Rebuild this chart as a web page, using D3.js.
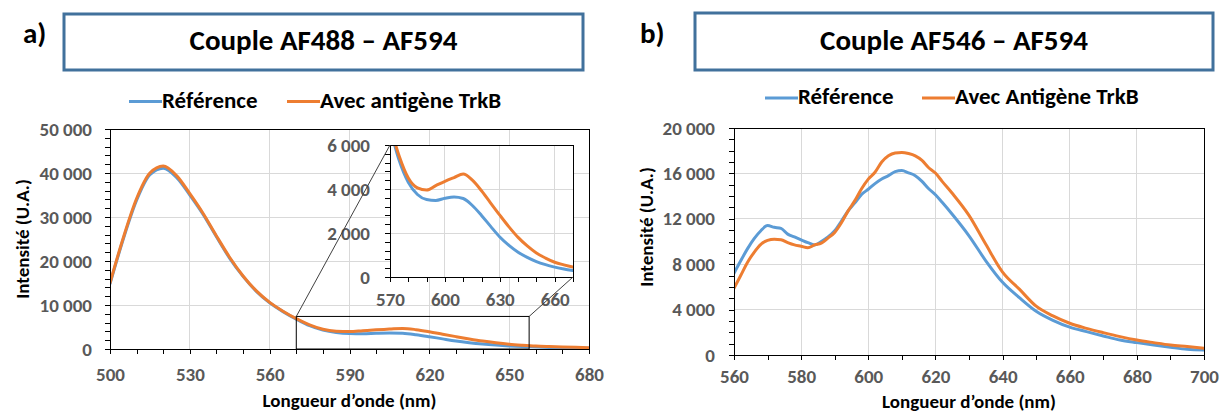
<!DOCTYPE html>
<html><head><meta charset="utf-8">
<script src="https://cdn.jsdelivr.net/npm/d3@7"></script>
<style>
body{margin:0;background:#fff}
svg{display:block}
text{font-family:Carlito,Lato,sans-serif}
</style>
</head><body>
<svg id="chart" width="1220" height="412"></svg>
<script>
// ---------------- DATA ----------------
// Panel a) Couple AF488 – AF594
const aWavelength = [500,505,510,515,520,525,530,535,540,545,550,555,560,565,570,575,580,585,590,595,600,605,610,615,620,625,630,635,640,645,650,655,660,665,670,675,680];
const aReference  = [14800,25000,33800,39600,41100,39000,35000,30600,25500,20600,16500,13100,10500,8500,6800,5300,4300,3750,3520,3480,3580,3640,3570,3250,2800,2300,1820,1440,1130,890,700,560,450,360,290,230,190];
const aAntigen    = [15000,25300,34200,40000,41600,39400,35300,30800,25700,20800,16600,13200,10600,8600,6900,5500,4500,4050,3950,4150,4350,4520,4680,4400,3920,3360,2810,2280,1800,1410,1090,860,670,550,450,370,300];
const aXTicks = [500,530,560,590,620,650,680];
const aYTicks = [0,10000,20000,30000,40000,50000];
const aZoomX = [570, 657.5];
const aZoomY = [0, 7400];
const insetXDomain = [570, 670];
const insetYDomain = [0, 6000];
const insetXTicks = [570,600,630,660];
const insetYTicks = [0,2000,4000,6000];

// Panel b) Couple AF546 – AF594
const bWavelength = [560,562,564,566,568,570,572,574,576,578,580,582,584,586,588,590,592,594,596,598,600,602,604,606,608,610,612,614,616,618,620,622,625,630,635,640,645,650,655,660,665,670,675,680,685,690,695,700];
const bReference  = [7200,8300,9350,10250,10950,11400,11250,11150,10650,10400,10150,9900,9700,10000,10400,10950,11800,12700,13400,14150,14600,15100,15500,15800,16150,16250,16050,15800,15300,14650,14120,13450,12400,10500,8300,6400,5050,3850,3050,2450,2060,1680,1320,1090,880,680,500,440];
const bAntigen    = [5880,7000,8150,9050,9750,10100,10200,10150,9900,9700,9580,9450,9700,9850,10300,10800,11650,12700,13600,14650,15500,16100,17000,17550,17800,17850,17750,17550,17150,16500,16030,15300,14250,12300,9750,7300,5800,4300,3450,2800,2350,1970,1620,1320,1090,880,740,590];
const bXTicks = [560,580,600,620,640,660,680,700];
const bYTicks = [0,4000,8000,12000,16000,20000];

const seriesA = ["Référence","Avec antigène TrkB"];
const seriesB = ["Référence","Avec Antigène TrkB"];
const titles = ["Couple AF488 – AF594","Couple AF546 – AF594"];
const panelLabels = ["a)","b)"];
const xTitle = "Longueur d’onde (nm)";
const yTitle = "Intensité (U.A.)";

// ---------------- STYLE ----------------
const BLUE = "#5B9BD5", ORANGE = "#ED7D31", GRID = "#D9D9D9", LABEL = "#595959", FRAME = "#41719C";
const FONT = "Carlito, Lato, sans-serif";
const TICK_FS = 19, TITLE_FS = 19, LEGEND_FS = 23, HEAD_FS = 29;
const fmt = d3.formatLocale({decimal:",", thousands:"\u00a0", grouping:[3], currency:["",""]}).format(",d");

const svg = d3.select("#chart");
svg.append("rect").attr("width",1220).attr("height",412).attr("fill","#fff");
const defs = svg.append("defs");

function header(boxX, boxY, boxW, boxH, labelX, label, title){
  svg.append("text").attr("x",labelX).attr("y",43).text(label)
    .attr("font-size",HEAD_FS).attr("font-weight","bold").attr("fill","#000");
  svg.append("rect").attr("x",boxX).attr("y",boxY).attr("width",boxW).attr("height",boxH)
    .attr("fill","none").attr("stroke",FRAME).attr("stroke-width",3);
  svg.append("text").attr("x",boxX+boxW/2).attr("y",50).attr("text-anchor","middle").text(title)
    .attr("font-size",HEAD_FS).attr("font-weight","bold").attr("fill","#000");
}
function legend(y, items){
  items.forEach(it=>{
    svg.append("line").attr("x1",it.x).attr("x2",it.x+33).attr("y1",y).attr("y2",y)
      .attr("stroke",it.color).attr("stroke-width",3);
    svg.append("text").attr("x",it.x+33).attr("y",y+6).text(it.name)
      .attr("font-size",LEGEND_FS).attr("font-weight","bold").attr("fill","#000");
  });
}
function grid(g, x, y, xt, yt){
  const [y0,y1] = y.range(), [x0,x1] = x.range();
  g.append("g").selectAll("line").data(xt).join("line")
    .attr("x1",d=>x(d)).attr("x2",d=>x(d)).attr("y1",y0).attr("y2",y1)
    .attr("stroke",GRID).attr("stroke-width",1).attr("shape-rendering","crispEdges");
  g.append("g").selectAll("line").data(yt).join("line")
    .attr("y1",d=>y(d)).attr("y2",d=>y(d)).attr("x1",x0).attr("x2",x1)
    .attr("stroke",GRID).attr("stroke-width",1).attr("shape-rendering","crispEdges");
}
function styleAxis(sel){
  sel.attr("font-family",FONT).attr("font-size",TICK_FS).attr("font-weight","bold");
  sel.select(".domain").remove();
  sel.selectAll("line").attr("stroke","#000").attr("shape-rendering","crispEdges");
  sel.selectAll("text").attr("fill",LABEL);
}
function axes(g, x, y, xt, yt, xMinor, yMinor, xPad, yPad){
  const yb = y.range()[0], xl = x.range()[0];
  g.append("g").attr("transform",`translate(0,${yb})`)
    .call(d3.axisBottom(x).tickValues(xMinor).tickSize(5).tickFormat(""))
    .call(styleAxis);
  g.append("g").attr("transform",`translate(${xl},0)`)
    .call(d3.axisLeft(y).tickValues(yMinor).tickSize(5).tickFormat(""))
    .call(styleAxis);
  g.append("g").attr("transform",`translate(0,${yb})`)
    .call(d3.axisBottom(x).tickValues(xt).tickSize(0).tickPadding(xPad).tickFormat(fmt))
    .call(styleAxis);
  g.append("g").attr("transform",`translate(${xl},0)`)
    .call(d3.axisLeft(y).tickValues(yt).tickSize(0).tickPadding(yPad).tickFormat(fmt))
    .call(styleAxis);
}
function frame(g, x, y){
  const [x0,x1]=x.range(), [y0,y1]=y.range();
  g.append("rect").attr("x",x0).attr("y",y1).attr("width",x1-x0).attr("height",y0-y1)
    .attr("fill","none").attr("stroke","#000").attr("stroke-width",1).attr("shape-rendering","crispEdges");
}
function clip(id, x, y){
  const [x0,x1]=x.range(), [y0,y1]=y.range();
  defs.append("clipPath").attr("id",id).append("rect")
    .attr("x",x0).attr("y",y1).attr("width",x1-x0).attr("height",y0-y1);
}
function series(g, x, y, xs, ys, color, clipId){
  const pts = xs.map((d,i)=>[d, ys[i]]);
  const line = d3.line().x(d=>x(d[0])).y(d=>y(d[1])).curve(d3.curveMonotoneX);
  g.append("path").datum(pts).attr("d",line).attr("fill","none")
    .attr("stroke",color).attr("stroke-width",3).attr("stroke-linejoin","round").attr("stroke-linecap","round")
    .attr("clip-path",`url(#${clipId})`);
}
function axisTitles(xCx, xY, yCx, yCy){
  svg.append("text").attr("x",xCx).attr("y",xY).attr("text-anchor","middle").text(xTitle)
    .attr("font-size",TITLE_FS).attr("font-weight","bold").attr("fill","#000");
  svg.append("text").attr("transform",`translate(${yCx},${yCy}) rotate(-90)`).attr("text-anchor","middle")
    .attr("dy","0.33em").text(yTitle)
    .attr("font-size",TITLE_FS).attr("font-weight","bold").attr("fill","#000");
}

// ---------------- PANEL A ----------------
header(64, 14, 519, 56, 23, panelLabels[0], titles[0]);
legend(101.5, [{x:129,color:BLUE,name:seriesA[0]},{x:287,color:ORANGE,name:seriesA[1]}]);

const ax = d3.scaleLinear().domain([500,680]).range([110,589]);
const ay = d3.scaleLinear().domain([0,50000]).range([349,129]);
const ga = svg.append("g");
clip("clipA", ax, ay);
grid(ga, ax, ay, aXTicks, aYTicks);
series(ga, ax, ay, aWavelength, aReference, BLUE, "clipA");
series(ga, ax, ay, aWavelength, aAntigen, ORANGE, "clipA");
frame(ga, ax, ay);
axes(ga, ax, ay, aXTicks, aYTicks, d3.range(500,681,10), d3.range(0,50001,2000), 19, 18);
axisTitles(349.5, 407, 23, 239);

// zoom window + inset
const ix = d3.scaleLinear().domain(insetXDomain).range([390,573]);
const iy = d3.scaleLinear().domain(insetYDomain).range([277,145]);
const zx0 = ax(aZoomX[0]), zx1 = ax(aZoomX[1]), zy0 = ay(aZoomY[0]), zy1 = ay(aZoomY[1]);
ga.append("rect").attr("x",zx0).attr("y",zy1).attr("width",zx1-zx0).attr("height",zy0-zy1)
  .attr("fill","none").attr("stroke","#000").attr("stroke-width",1);
const gi = svg.append("g");
gi.append("rect").attr("x",390).attr("y",145).attr("width",183).attr("height",132).attr("fill","#fff");
clip("clipI", ix, iy);
grid(gi, ix, iy, insetXTicks, insetYTicks);
series(gi, ix, iy, aWavelength, aReference, BLUE, "clipI");
series(gi, ix, iy, aWavelength, aAntigen, ORANGE, "clipI");
frame(gi, ix, iy);
axes(gi, ix, iy, insetXTicks, insetYTicks, d3.range(570,671,10), d3.range(0,6001,400), 16, 20);
gi.append("line").attr("x1",zx0).attr("y1",zy1).attr("x2",ix.range()[0]).attr("y2",iy.range()[1])
  .attr("stroke","#404040").attr("stroke-width",1);
gi.append("line").attr("x1",zx1).attr("y1",zy1).attr("x2",ix.range()[1]).attr("y2",iy.range()[0])
  .attr("stroke","#404040").attr("stroke-width",1);

// ---------------- PANEL B ----------------
header(695, 13, 518, 57, 640, panelLabels[1], titles[1]);
legend(98, [{x:765,color:BLUE,name:seriesB[0]},{x:922,color:ORANGE,name:seriesB[1]}]);

const bx = d3.scaleLinear().domain([560,700]).range([734,1204]);
const by = d3.scaleLinear().domain([0,20000]).range([355,128]);
const gb = svg.append("g");
clip("clipB", bx, by);
grid(gb, bx, by, bXTicks, bYTicks);
series(gb, bx, by, bWavelength, bReference, BLUE, "clipB");
series(gb, bx, by, bWavelength, bAntigen, ORANGE, "clipB");
frame(gb, bx, by);
axes(gb, bx, by, bXTicks, bYTicks, d3.range(560,701,10), d3.range(0,20001,1000), 15, 19);
axisTitles(969, 407.5, 647, 227);
</script>
</body></html>
